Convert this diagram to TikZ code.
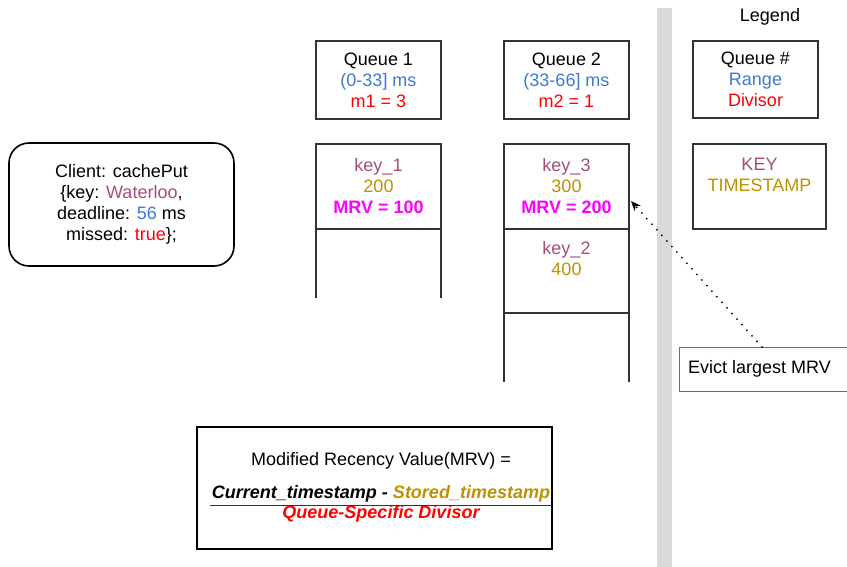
\documentclass[tikz,border=0pt]{standalone}
\usepackage{fontspec}
\setmainfont{Liberation Sans}
\usetikzlibrary{arrows.meta}
\definecolor{keyc}{HTML}{A64D79}
\definecolor{rangec}{HTML}{3C78D8}
\definecolor{stampc}{HTML}{BF9000}
\definecolor{divc}{HTML}{FF0000}
\definecolor{mrvc}{HTML}{FF00FF}
\definecolor{barc}{HTML}{D9D9D9}
\definecolor{framec}{HTML}{333333}
\definecolor{evictc}{HTML}{8E5A75}
\tikzset{
  txt/.style={font=\fontsize{18}{21}\selectfont, align=center, inner sep=0pt},
  header/.style={txt, draw=framec, line width=2pt, minimum width=125pt, minimum height=78pt},
  bodyline/.style={draw=framec, line width=1.2pt},
  keybox/.style={draw=framec, line width=1.2pt, minimum width=133pt, minimum height=85pt, inner sep=0pt},
  evictarrow/.style={line width=2pt, line cap=round, dash pattern=on 0pt off 7.5pt, -{Stealth[length=10pt,width=8pt]}},
}
\begin{document}
\begin{tikzpicture}[x=1pt,y=-1pt]
\useasboundingbox (0,0) rectangle (847,567);

% separator between the queues and the legend
\fill[barc] (657,8) rectangle (672,567);

% client request
\node[txt, draw=black, line width=1.6pt, rounded corners=20pt, minimum width=225pt, minimum height=123pt] (client) at (121.5,204.5)
  {Client: cachePut\\{\{}key: \textcolor{keyc}{Waterloo},\\deadline: \textcolor{rangec}{56} ms\\missed: \textcolor{divc}{true}\};};

% queue headers
\node[header] (q1) at (378.5,80) {Queue 1\\\textcolor{rangec}{(0-33] ms}\\\textcolor{divc}{m1 = 3}};
\node[header] (q2) at (566.5,80) {Queue 2\\\textcolor{rangec}{(33-66] ms}\\\textcolor{divc}{m2 = 1}};

% queue 1 storage
\draw[bodyline] (316,298) -- (316,144) -- (441,144) -- (441,298);
\draw[bodyline] (316,229) -- (441,229);
\node[txt] (k1) at (378.5,186) {\textcolor{keyc}{key\_1}\\\textcolor{stampc}{200}\\\textcolor{mrvc}{\bfseries MRV = 100}};

% queue 2 storage
\draw[bodyline] (504,382) -- (504,144) -- (629,144) -- (629,382);
\draw[bodyline] (504,229) -- (629,229);
\draw[bodyline] (504,313) -- (629,313);
\node[txt] (k3) at (566.5,186) {\textcolor{keyc}{key\_3}\\\textcolor{stampc}{300}\\\textcolor{mrvc}{\bfseries MRV = 200}};
\node[txt] (k2) at (566.5,259) {\textcolor{keyc}{key\_2}\\\textcolor{stampc}{400}};
\coordinate (k3edge) at (631,201);

% legend
\node[txt] (legend) at (770,17) {Legend};
\node[header, minimum width=125pt, minimum height=77pt] (lq) at (755.5,79.5) {Queue \#\\\textcolor{rangec}{Range}\\\textcolor{divc}{Divisor}};
\node[keybox] (lk) at (759.5,186.5) {};
\node[txt] (lktext) at (759.5,175) {\textcolor{keyc}{KEY}\\\textcolor{stampc}{TIMESTAMP}};

% eviction note
\node[txt, draw=evictc, line width=1pt, minimum width=170pt, minimum height=44pt, anchor=north west] (evict) at (679,347) {};
\node[txt, anchor=west] (evicttext) at (688,369) {Evict largest MRV};
\coordinate (evtop) at (762,347);
\draw[evictarrow] (evtop) -- (k3edge);

% MRV definition
\node[draw=black, line width=2pt, minimum width=355pt, minimum height=122pt] (formula) at (374.5,488) {};
\node[txt] (ftitle) at (381,461) {Modified Recency Value(MRV) =};
\node[txt, font=\fontsize{18}{21}\selectfont\bfseries\itshape] (fnum) at (381,494) {Current\_timestamp - \textcolor{stampc}{Stored\_timestamp}};
\node[txt, font=\fontsize{18}{21}\selectfont\bfseries\itshape, text=divc] (fden) at (381,514) {Queue-Specific Divisor};
\coordinate (barl) at (210,505);
\coordinate (barr) at (552,505);
\draw[line width=1pt, framec] (barl) -- (barr);
\end{tikzpicture}
\end{document}
